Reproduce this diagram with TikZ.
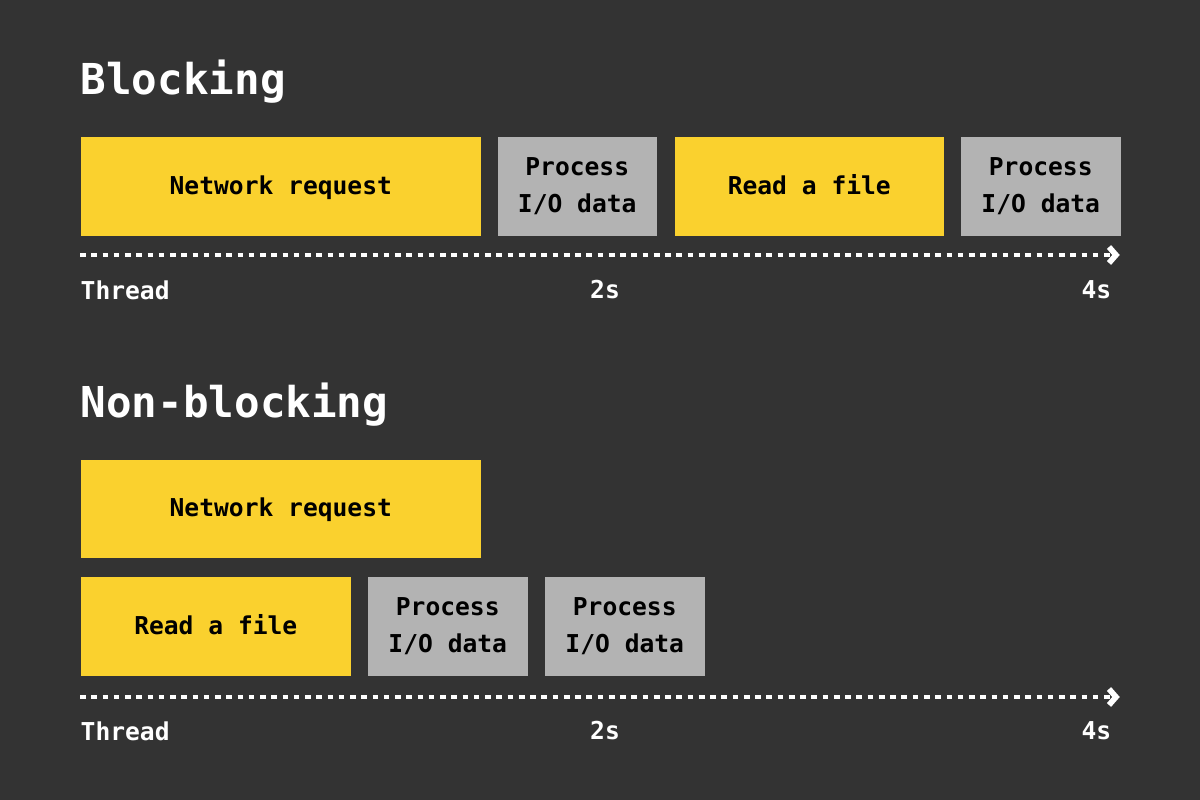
\documentclass[tikz,border=0pt]{standalone}
\usepackage{fontspec}
\setmonofont{DejaVu Sans Mono}
\usetikzlibrary{positioning,calc}
\definecolor{bgdark}{HTML}{333333}
\definecolor{taskyellow}{HTML}{FAD12E}
\definecolor{taskgray}{HTML}{B3B3B3}
\tikzset{
  task/.style={anchor=south west, inner sep=0pt, align=center,
    font=\ttfamily\bfseries\fontsize{7}{10.5}\selectfont, text=black},
  io/.style={task, fill=taskyellow},
  cpu/.style={task, fill=taskgray},
  title/.style={anchor=west, inner sep=0pt, text=white,
    font=\ttfamily\bfseries\fontsize{12.1}{14}\selectfont},
  tick/.style={inner sep=0pt, text=white,
    font=\ttfamily\bfseries\fontsize{7}{9}\selectfont},
  timeline/.style={white, line width=1.2pt, dash pattern=on 1.6pt off 1.6pt},
}
\begin{document}
\begin{tikzpicture}[x=0.01cm, y=0.01cm]
  \fill[bgdark] (0,0) rectangle (1200,800);

  % blocking
  \node[title] (t1) at (80,718) {Blocking};
  \node[io, minimum width=4cm, minimum height=0.99cm] (b1) at (80,563) {\strut Network request};
  \node[cpu, minimum width=1.59cm, minimum height=0.99cm] (b2) at (497,563) {\strut Process\\I/O data\strut};
  \node[io, minimum width=2.69cm, minimum height=0.99cm] (b3) at (674,563) {\strut Read a file};
  \node[cpu, minimum width=1.6cm, minimum height=0.99cm] (b4) at (960,563) {\strut Process\\I/O data\strut};
  \coordinate (a1s) at (80,545);
  \coordinate (a1e) at (1116,545);
  \draw[timeline] (a1s) -- (a1e);
  \draw[white, line width=1.6pt] ($(a1e)+(-7,8)$) -- (a1e) -- ($(a1e)+(-7,-8)$);
  \node[tick, anchor=west] (l1) at (80,510) {Thread};
  \node[tick] (m1) at (605,510) {2s};
  \node[tick, anchor=east] (r1) at (1112,510) {4s};

  % non-blocking
  \node[title] (t2) at (80,395) {Non-blocking};
  \node[io, minimum width=4cm, minimum height=0.98cm] (n1) at (80,241) {\strut Network request};
  \node[io, minimum width=2.7cm, minimum height=0.99cm] (n2) at (80,123) {\strut Read a file};
  \node[cpu, minimum width=1.6cm, minimum height=0.99cm] (n3) at (367,123) {\strut Process\\I/O data\strut};
  \node[cpu, minimum width=1.6cm, minimum height=0.99cm] (n4) at (544,123) {\strut Process\\I/O data\strut};
  \coordinate (a2s) at (80,103);
  \coordinate (a2e) at (1116,103);
  \draw[timeline] (a2s) -- (a2e);
  \draw[white, line width=1.6pt] ($(a2e)+(-7,8)$) -- (a2e) -- ($(a2e)+(-7,-8)$);
  \node[tick, anchor=west] (l2) at (80,69) {Thread};
  \node[tick] (m2) at (605,69) {2s};
  \node[tick, anchor=east] (r2) at (1112,69) {4s};
\end{tikzpicture}
\end{document}
